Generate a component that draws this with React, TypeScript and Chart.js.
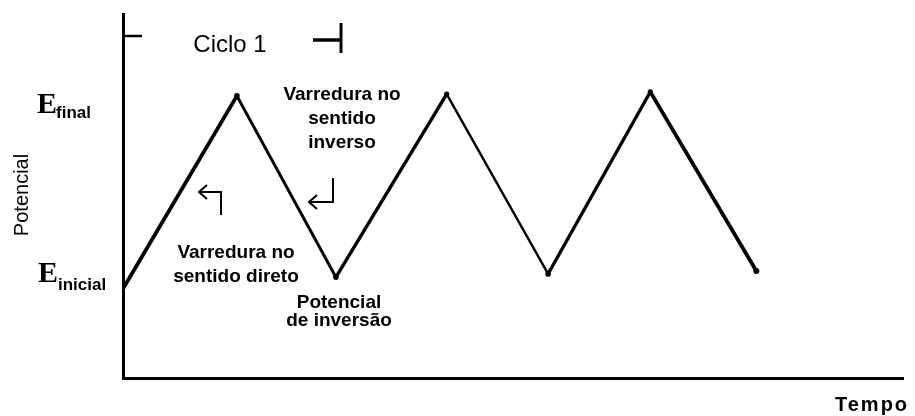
import React, { useEffect, useRef } from "react";
import { Chart, registerables } from "chart.js";

Chart.register(...registerables);

// Triangular potential sweep (cyclic voltammetry waveform), arbitrary units
const timeValues = [0, 14.6, 27.3, 41.5, 54.5, 67.6, 81.2];
const potentialValues = [24.5, 77.5, 27.7, 78.0, 28.6, 78.6, 29.4];
const vertexRadii = [0, 2.8, 2.8, 2.6, 2.8, 2.6, 3];
const segmentWidths = [3.8, 3, 3.4, 2.4, 3.2, 3.8];

const xAxisTitle = "Tempo";
const yAxisTitle = "Potencial";
const yLevelLabels = [
  { main: "E", sub: "final" },
  { main: "E", sub: "inicial" },
];
const cycleLabel = "Ciclo 1";
const forwardScanLines = ["Varredura no", "sentido direto"];
const reverseScanLines = ["Varredura no", "sentido", "inverso"];
const switchingLines = ["Potencial", "de inversão"];

const SANS = '"Liberation Sans", Arial, Helvetica, sans-serif';
const SERIF = '"Liberation Serif", "Times New Roman", serif';

function line(ctx: CanvasRenderingContext2D, pts: number[][], w: number) {
  ctx.beginPath();
  ctx.lineWidth = w;
  ctx.moveTo(pts[0][0], pts[0][1]);
  for (let i = 1; i < pts.length; i++) ctx.lineTo(pts[i][0], pts[i][1]);
  ctx.stroke();
}

const annotations = {
  id: "waveAnnotations",
  afterDraw(chart: any) {
    const ctx: CanvasRenderingContext2D = chart.ctx;
    ctx.save();
    ctx.fillStyle = "#000";
    ctx.strokeStyle = "#000";
    ctx.lineCap = "butt";

    // y-axis title
    ctx.save();
    ctx.translate(28, 195);
    ctx.rotate(-Math.PI / 2);
    ctx.font = `20px ${SANS}`;
    ctx.textAlign = "center";
    ctx.textBaseline = "alphabetic";
    ctx.fillText(yAxisTitle, 0, 0);
    ctx.restore();

    // E_final / E_inicial level labels
    const levelPos = [
      { x: 37, y: 113, sx: 56, sy: 118 },
      { x: 38, y: 282, sx: 58, sy: 290 },
    ];
    ctx.textAlign = "left";
    yLevelLabels.forEach((lab, i) => {
      const p = levelPos[i];
      ctx.font = `bold 30px ${SERIF}`;
      ctx.fillText(lab.main, p.x, p.y);
      ctx.font = `bold 17px ${SANS}`;
      ctx.fillText(lab.sub, p.sx, p.sy);
    });

    // x-axis title
    ctx.font = `bold 20px ${SANS}`;
    (ctx as any).letterSpacing = "2px";
    ctx.fillText(xAxisTitle, 835, 411);
    (ctx as any).letterSpacing = "0px";

    // cycle bracket
    ctx.font = `24px ${SANS}`;
    ctx.textAlign = "center";
    ctx.fillText(cycleLabel, 230, 52);
    line(ctx, [[123, 36], [142, 36]], 2.5);
    line(ctx, [[313, 40], [341, 40]], 3.5);
    line(ctx, [[341, 23], [341, 53]], 3);

    // scan direction notes
    ctx.font = `bold 19px ${SANS}`;
    reverseScanLines.forEach((t, i) => ctx.fillText(t, 342, 100 + i * 24));
    forwardScanLines.forEach((t, i) => ctx.fillText(t, 236, 258 + i * 24));
    switchingLines.forEach((t, i) => ctx.fillText(t, 339, 308 + i * 18));

    // bent arrows
    line(ctx, [[221, 215], [221, 192], [199, 192]], 2);
    line(ctx, [[207, 185], [199, 192], [207, 199]], 2);
    line(ctx, [[333, 178], [333, 202], [309, 202]], 2);
    line(ctx, [[317, 195], [309, 202], [317, 209]], 2);

    ctx.restore();
  },
};

export default function App() {
  const ref = useRef<HTMLCanvasElement>(null);

  useEffect(() => {
    if (!ref.current) return;
    const points = timeValues.map((t, i) => ({ x: t, y: potentialValues[i] }));
    const chart = new Chart(ref.current, {
      type: "line",
      data: {
        datasets: [
          {
            data: points,
            borderColor: "#000",
            backgroundColor: "#000",
            borderWidth: 3,
            borderJoinStyle: "round",
            borderCapStyle: "round",
            pointRadius: vertexRadii,
            pointBorderWidth: 0,
            pointBackgroundColor: "#000",
            tension: 0,
            segment: {
              borderWidth: (c: any) => segmentWidths[c.p0DataIndex] ?? 3,
            },
          },
        ],
      },
      options: {
        animation: false,
        responsive: false,
        devicePixelRatio: 1,
        layout: { padding: { left: 115, right: 12, top: 14, bottom: 30 } },
        plugins: {
          legend: { display: false },
          tooltip: { enabled: false },
          title: { display: false },
        },
        scales: {
          x: {
            type: "linear",
            min: 0,
            max: 100,
            grid: { display: false },
            ticks: { display: false },
            border: { display: true, color: "#000", width: 3 },
          },
          y: {
            type: "linear",
            min: 0,
            max: 100,
            grid: { display: false },
            ticks: { display: false },
            border: { display: true, color: "#000", width: 3 },
          },
        },
      },
      plugins: [annotations],
    });
    return () => chart.destroy();
  }, []);

  return (
    <div
      style={{
        position: "fixed",
        left: 0,
        top: 0,
        width: 915,
        height: 416,
        background: "#fff",
      }}
    >
      <canvas ref={ref} width={915} height={416} style={{ display: "block" }} />
    </div>
  );
}
